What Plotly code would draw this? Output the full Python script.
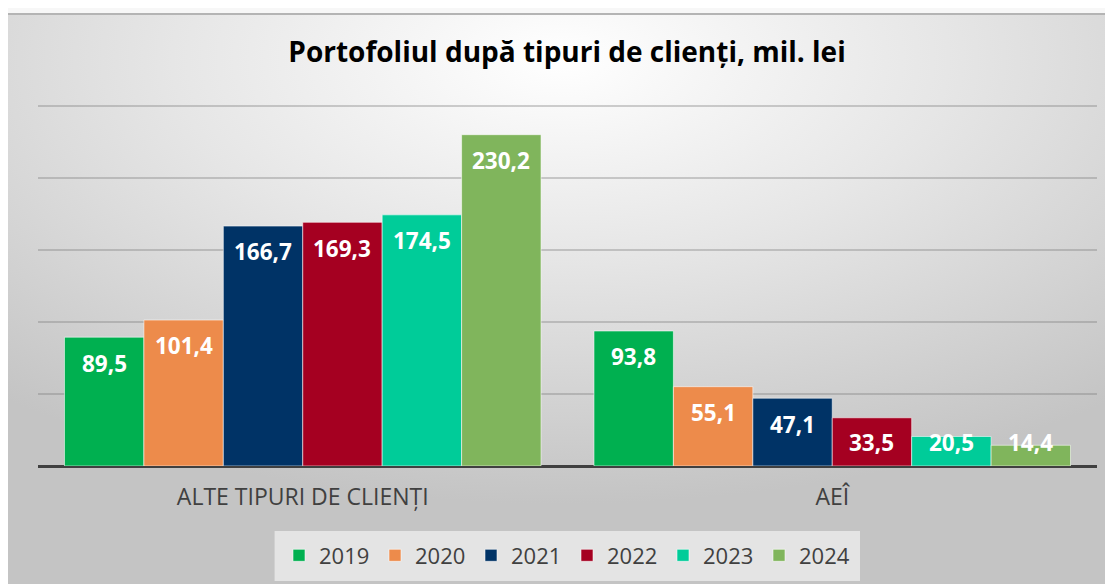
import base64
import plotly.graph_objects as go

categories = ["ALTE TIPURI DE CLIENȚI", "AEÎ"]
years = ["2019", "2020", "2021", "2022", "2023", "2024"]
values_2019 = [89.5, 93.8]
values_2020 = [101.4, 55.1]
values_2021 = [166.7, 47.1]
values_2022 = [169.3, 33.5]
values_2023 = [174.5, 20.5]
values_2024 = [230.2, 14.4]
series = [values_2019, values_2020, values_2021, values_2022, values_2023, values_2024]
colors = ["#00b050", "#ed8b4b", "#003366", "#a50021", "#00cc99", "#80b55c"]

FONT = "Open Sans"
BARGAP = 0.1

fig = go.Figure()
for yr, vals, col in zip(years, series, colors):
    fig.add_trace(go.Bar(
        name=yr, x=categories, y=vals,
        marker=dict(color=col, line=dict(color="rgba(255,255,255,0.55)", width=1)),
        hoverinfo="skip",
    ))

# data labels (white, bold, near the top of each bar)
n = len(years)
w = (1 - BARGAP) / n
annotations = []
for j, vals in enumerate(series):
    for i, v in enumerate(vals):
        annotations.append(dict(
            x=i + (j - (n - 1) / 2) * w, y=max(v - 18.0, 16.0),
            xref="x", yref="y", text=f"{v:.1f}".replace(".", ","),
            showarrow=False, yanchor="middle", xanchor="center",
            font=dict(family=FONT, size=22.5, color="white", weight="bold"),
        ))

W, H = 1105, 576
L, R, T, B = 30, 16, 91, 118
pw, ph = W - L - R, H - T - B
BASE = H - B  # pixel row of the zero line in figure coords


def px_x(px):
    return (px - L) / pw


def px_y(py):
    return (BASE - py) / ph


# gradient background as an svg image
svg = """<svg xmlns='http://www.w3.org/2000/svg' width='1105' height='571' viewBox='0 0 1105 571' preserveAspectRatio='none'>
<defs><radialGradient id='g' cx='0.5' cy='0.08' r='0.78' gradientUnits='objectBoundingBox'>
<stop offset='0' stop-color='#ffffff'/><stop offset='0.45' stop-color='#e6e6e6'/><stop offset='1' stop-color='#c4c4c4'/>
</radialGradient></defs>
<rect x='0' y='0' width='1105' height='571' fill='url(#g)'/>
<rect x='0' y='0' width='1105' height='2' fill='#b4b4b4'/>
</svg>"""
uri = "data:image/svg+xml;base64," + base64.b64encode(svg.encode()).decode()

fig.update_layout(
    width=W, height=H,
    margin=dict(l=L, r=R, t=T, b=B, pad=0, autoexpand=False),
    paper_bgcolor="#f7f7f7", plot_bgcolor="rgba(0,0,0,0)",
    barmode="group", bargap=BARGAP, bargroupgap=0,
    title=dict(text="Portofoliul după tipuri de clienți, mil. lei",
               x=559 / W, xanchor="center", y=1 - 44 / H, yanchor="middle",
               xref="container", yref="container",
               font=dict(family=FONT, size=28, color="#000000", weight="bold")),
    font=dict(family=FONT, color="#404040"),
    xaxis=dict(showgrid=False, ticks="", showline=False,
               tickfont=dict(family=FONT, size=23, color="#404040"),
               ticklabelstandoff=15),
    yaxis=dict(range=[0, 255], dtick=50, showticklabels=False,
               showgrid=True, gridcolor="rgba(120,120,120,0.35)", gridwidth=2,
               zeroline=True, zerolinecolor="#404040", zerolinewidth=3),
    legend=dict(orientation="h", x=px_x(559), xanchor="center",
                y=px_y(547.5), yanchor="middle",
                bgcolor="rgba(0,0,0,0)", borderwidth=0,
                font=dict(family=FONT, size=22, color="#404040"),
                entrywidth=51, entrywidthmode="pixels",
                traceorder="normal"),
    shapes=[dict(type="rect", xref="paper", yref="paper",
                 x0=px_x(266.6), x1=px_x(852), y0=px_y(523), y1=px_y(573),
                 fillcolor="#e4e4e4", line=dict(width=0), layer="below")],
    annotations=annotations,
    images=[dict(source=uri, xref="paper", yref="paper",
                 x=(0 - L) / pw, y=px_y(5),
                 sizex=W / pw, sizey=(H - 5) / ph,
                 xanchor="left", yanchor="top", sizing="stretch",
                 layer="below")],
    showlegend=True,
)

fig.write_html("out.html")
